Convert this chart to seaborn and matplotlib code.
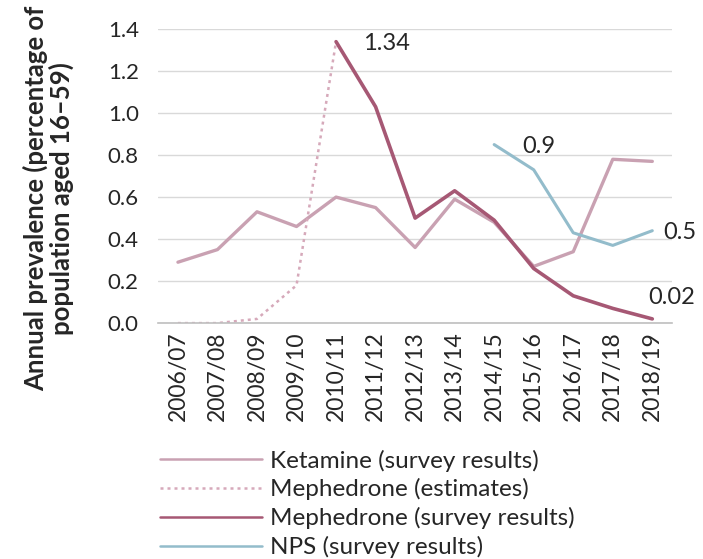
import numpy as np
import pandas as pd
import matplotlib
matplotlib.use("Agg")
import matplotlib.pyplot as plt
import seaborn as sns

years = ["2006/07", "2007/08", "2008/09", "2009/10", "2010/11", "2011/12", "2012/13",
         "2013/14", "2014/15", "2015/16", "2016/17", "2017/18", "2018/19"]
ketamine = [0.29, 0.35, 0.53, 0.46, 0.60, 0.55, 0.36, 0.59, 0.48, 0.27, 0.34, 0.78, 0.77]
meph_est_years = years[:5]
meph_est = [0.0, 0.0, 0.02, 0.18, 1.34]
meph_survey_years = years[4:]
meph_survey = [1.34, 1.03, 0.50, 0.63, 0.49, 0.26, 0.13, 0.07, 0.02]
nps_years = years[8:]
nps = [0.85, 0.73, 0.43, 0.37, 0.44]

pos = {y: i for i, y in enumerate(years)}

sns.set_style("white")
plt.rcParams["font.family"] = ["Lato", "DejaVu Sans"]

fig = plt.figure(figsize=(7.03, 5.59), dpi=100)
ax = fig.add_axes([0.225, 0.422, 0.731, 0.526])

k_col = "#c9a1b2"
me_col = "#d6a9ba"
ms_col = "#a65874"
n_col = "#93bccb"
txt = "#262626"

sns.lineplot(x=[pos[y] for y in years], y=ketamine, ax=ax, color=k_col, lw=2.4,
             label="Ketamine (survey results)")
sns.lineplot(x=[pos[y] for y in meph_est_years], y=meph_est, ax=ax, color=me_col, lw=1.8,
             linestyle=(0, (1.2, 1.6)), label="Mephedrone (estimates)")
sns.lineplot(x=[pos[y] for y in meph_survey_years], y=meph_survey, ax=ax, color=ms_col, lw=2.6,
             label="Mephedrone (survey results)")
sns.lineplot(x=[pos[y] for y in nps_years], y=nps, ax=ax, color=n_col, lw=2.2,
             label="NPS (survey results)")

ax.set_xlim(-0.5, len(years) - 0.5)
ax.set_ylim(0, 1.4)
ax.set_yticks(np.arange(0, 1.41, 0.2))
ax.set_yticklabels([f"{v:.1f}" for v in np.arange(0, 1.41, 0.2)], fontsize=16, color=txt)
ax.set_xticks(range(len(years)))
ax.set_xticklabels(years, rotation=90, fontsize=16.5, color=txt)
ax.tick_params(axis="both", length=0, pad=6)
ax.tick_params(axis="y", pad=14)
ax.yaxis.grid(True, color="#d9d9d9", lw=1)
ax.set_axisbelow(True)
for s in ["top", "right", "left"]:
    ax.spines[s].set_visible(False)
ax.spines["bottom"].set_color("#bfbfbf")
ax.spines["bottom"].set_linewidth(1.2)

ax.set_ylabel("Annual prevalence (percentage of\npopulation aged 16\u201359)",
              fontsize=18.5, fontweight="bold", linespacing=1.0, color=txt)
ax.yaxis.set_label_coords(-0.214, 0.425)
ax.yaxis.label.set_verticalalignment("center")
ax.set_xlabel("")

# value labels
ax.text(4.69, 1.33, "1.34", fontsize=17, va="center", ha="left", color=txt)
ax.text(8.72, 0.84, "0.9", fontsize=17, va="center", ha="left", color=txt)
ax.text(12.28, 0.43, "0.5", fontsize=17, va="center", ha="left", color=txt)
ax.text(11.9, 0.12, "0.02", fontsize=17, va="center", ha="left", color=txt)

leg = ax.legend(loc="upper left", bbox_to_anchor=(0.228, 0.196), bbox_transform=fig.transFigure,
                frameon=False, fontsize=17.5, handlelength=4.2, handletextpad=0.3,
                labelspacing=0.28, borderaxespad=0, borderpad=0)
for t in leg.get_texts():
    t.set_color(txt)
for h in leg.get_lines():
    h.set_linewidth(1.8)

fig.savefig("out.png", dpi=100)
